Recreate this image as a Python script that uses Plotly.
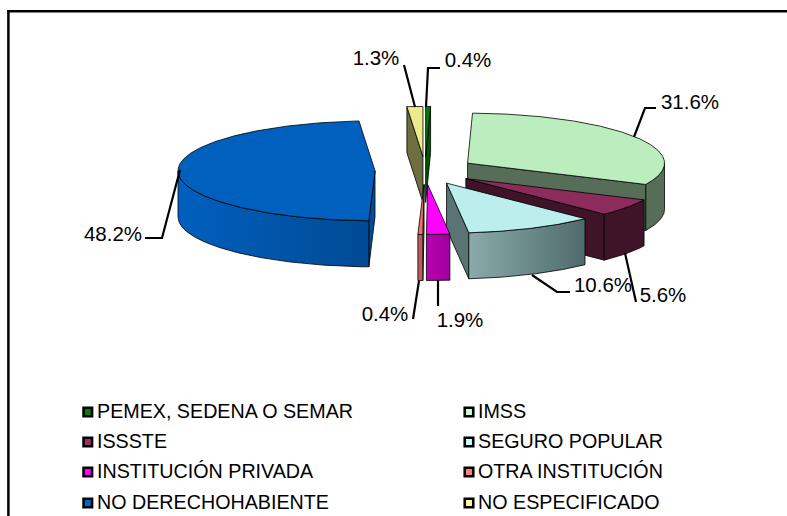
import math
import plotly.graph_objects as go

categories = ["PEMEX, SEDENA O SEMAR", "IMSS", "ISSSTE", "SEGURO POPULAR",
              "INSTITUCIÓN PRIVADA", "OTRA INSTITUCIÓN", "NO DERECHOHABIENTE", "NO ESPECIFICADO"]
values = [0.4, 31.6, 5.6, 10.6, 1.9, 0.4, 48.2, 1.3]
top_colors = ["#007A00", "#BBEDBF", "#8B2C5C", "#BCEEEE", "#FF00FF", "#F07070", "#0060BE", "#ECEC8C"]
legend_colors = ["#008000", "#CCFFCC", "#993366", "#CCFFFF", "#FF00FF", "#FF8080", "#0066CC", "#FFFF99"]
side_left = ["#005500", "#566E58", "#3F1429", "#8AABAB", "#B800B0", "#B85C5C", "#0060BE", "#6E6E40"]
side_right = ["#005500", "#566E58", "#3F1429", "#4F6A6A", "#A000A0", "#B85C5C", "#004A94", "#6E6E40"]
face_colors = ["#005500", "#566E58", "#3F1429", "#5A7474", "#A000A0", "#B85C5C", "#004C96", "#6E6E40"]
draw_order = [0, 7, 1, 6, 2, 3, 5, 4]

# layout constants (pixels)
CX, CY, RX, RY, PX, PY, DEPTH = 425, 170.5, 197, 50, 50, 14, 46
FONT = "Liberation Sans, Arial, sans-serif"
label_pos = [(468, 62), (690, 104), (663, 297), (603, 287), (460, 322), (385, 316), (113, 236), (376, 60)]
leaders = [
    [(426, 107), (428, 68), (440, 68)],
    [(634, 137), (645, 108), (656, 108)],
    [(625, 253), (636, 302)],
    [(532, 275), (557, 292), (570, 292)],
    [(438, 280), (438, 306)],
    [(419, 281), (413, 319)],
    [(180, 170), (162, 238), (145, 238)],
    [(415, 107), (404, 65)],
]
legend_x = [87.8, 469]
legend_text_x = [97, 478]
legend_y = [412, 442, 472, 503]

fig = go.Figure()
OUT = dict(color="#000000", width=0.8)


def pt(ax, ay, deg, dy=0):
    t = math.radians(deg)
    return ax + RX * math.sin(t), ay - RY * math.cos(t) + dy


def arc(ax, ay, a, b, dy=0):
    n = max(2, int(abs(b - a) * 2))
    return [pt(ax, ay, a + (b - a) * k / n, dy) for k in range(n + 1)]


def poly(points, color, name, right=None):
    xs = [p[0] for p in points] + [points[0][0]]
    ys = [p[1] for p in points] + [points[0][1]]
    kw = dict(fillcolor=color)
    if right and right != color:
        kw = dict(fillgradient=dict(type="horizontal",
                                    colorscale=[[0, color], [1, right]]))
    fig.add_trace(go.Scatter(x=xs, y=ys, mode="lines", fill="toself", line=OUT,
                             name=name, showlegend=False, hoverinfo="skip", **kw))


starts = []
acc = 0.0
for v in values:
    starts.append(acc)
    acc += v
total = acc

for i in draw_order:
    a = starts[i] / total * 360
    b = (starts[i] + values[i]) / total * 360
    mid = math.radians((a + b) / 2)
    ax, ay = CX + PX * math.sin(mid), CY - PY * math.cos(mid)
    name = categories[i]
    apex = (ax, ay)
    if a > 180:
        o = pt(ax, ay, a)
        poly([apex, o, (o[0], o[1] + DEPTH), (ax, ay + DEPTH)], face_colors[i], name)
    if b < 180:
        o = pt(ax, ay, b)
        poly([apex, o, (o[0], o[1] + DEPTH), (ax, ay + DEPTH)], face_colors[i], name)
    lo, hi = max(a, 90), min(b, 270)
    if hi > lo:
        poly(arc(ax, ay, lo, hi) + arc(ax, ay, hi, lo, DEPTH), side_left[i], name, side_right[i])
    poly([apex] + arc(ax, ay, a, b), top_colors[i], name)

for seg in leaders:
    fig.add_trace(go.Scatter(x=[p[0] for p in seg], y=[p[1] for p in seg], mode="lines",
                             line=dict(color="#000000", width=2.2), showlegend=False, hoverinfo="skip"))

fig.add_trace(go.Scatter(
    x=[p[0] for p in label_pos], y=[p[1] for p in label_pos], mode="text",
    text=[f"{v:.1f}%" for v in values], textposition="middle center",
    textfont=dict(family=FONT, size=20.5, color="#000000"),
    showlegend=False, hoverinfo="skip"))

for i, name in enumerate(categories):
    yy = legend_y[i // 2]
    fig.add_trace(go.Scatter(
        x=[legend_x[i % 2]], y=[yy], mode="markers",
        marker=dict(symbol="square", size=8.5, color=legend_colors[i],
                    line=dict(color="#000000", width=2.6)),
        name=name, showlegend=False, hoverinfo="skip"))
    fig.add_trace(go.Scatter(
        x=[legend_text_x[i % 2]], y=[yy + 1.5], mode="text", text=[name],
        textposition="middle right",
        textfont=dict(family=FONT, size=19.7, color="#000000"),
        name=name, showlegend=False, hoverinfo="skip"))

FRAME = dict(color="#000000", width=2.5)
fig.add_shape(type="line", x0=7.2, y0=11.3, x1=787, y1=11.3, line=FRAME, layer="above")
fig.add_shape(type="line", x0=8.4, y0=10, x1=8.4, y1=516, line=FRAME, layer="above")

fig.update_layout(
    width=787, height=516, margin=dict(l=0, r=0, t=0, b=0),
    paper_bgcolor="#FFFFFF", plot_bgcolor="#FFFFFF", showlegend=False,
    xaxis=dict(range=[0, 787], visible=False, fixedrange=True),
    yaxis=dict(range=[516, 0], visible=False, fixedrange=True),
)
fig.write_html("out.html", config={"displayModeBar": False},
               post_script="document.body.style.margin='0';document.body.style.overflow='hidden';")
